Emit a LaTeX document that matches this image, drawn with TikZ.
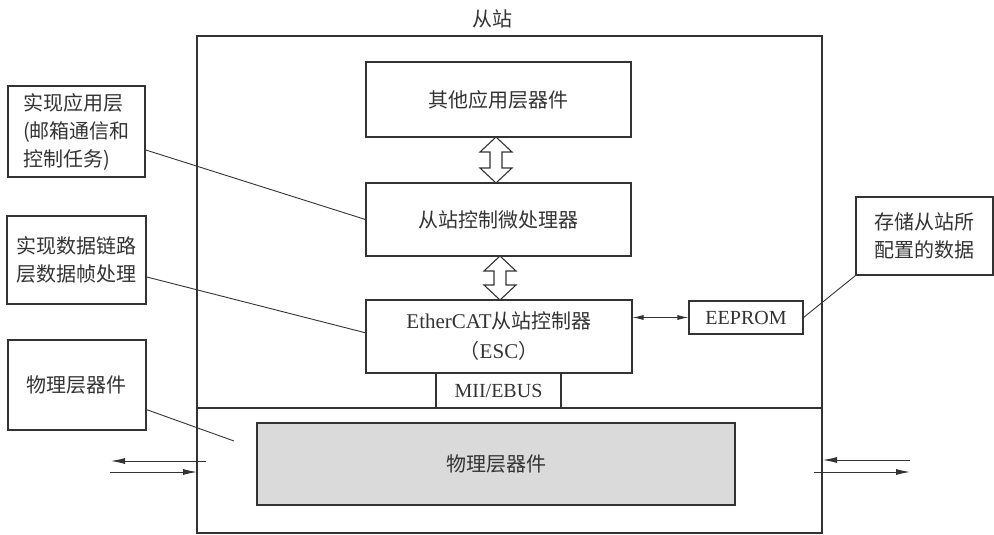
\documentclass[tikz,border=0pt]{standalone}
\usepackage{fontspec}
\setmainfont{Liberation Serif}
\newfontfamily\cjk{Noto Sans CJK SC}
\usetikzlibrary{arrows.meta,calc}
\definecolor{ink}{HTML}{333333}
\definecolor{phys}{HTML}{DADADA}
\newcommand\hollowarrow[3]{%
  \draw[ink,line width=1.1pt,fill=white,line join=miter]
    (#1,#2) -- ++(16,15) -- ++(-10,0) -- (#1+6,#3-15) -- ++(10,0) -- (#1,#3)
    -- ++(-16,-15) -- ++(10,0) -- (#1-6,#2+15) -- ++(-10,0) -- cycle;}
\begin{document}
\begin{tikzpicture}[x=1pt,y=-1pt,
  every node/.style={text=ink,font=\fontsize{20}{28}\selectfont\cjk},
  box/.style={draw=ink,line width=1.1pt,rectangle,inner sep=0pt},
  lead/.style={draw=ink,line width=0.9pt},
  tip/.style={draw=ink,line width=0.9pt,-{Latex[length=14pt,width=6pt]}},
  dtip/.style={draw=ink,line width=0.9pt,{Latex[length=11pt,width=5pt]}-{Latex[length=11pt,width=5pt]}}]
\useasboundingbox (0,0) rectangle (994,535);
% outer slave box
\node[box,minimum width=625pt,minimum height=497pt] (outer) at (509.5,284.5) {};
\node (title) at (492,19) {从站};
\coordinate (hl) at (197,408);
\coordinate (hr) at (822,408);
\draw[ink,line width=1.1pt] (hl) -- (hr);
% inner boxes
\node[box,minimum width=265pt,minimum height=75pt] (top) at (498.5,99.5) {其他应用层器件};
\node[box,minimum width=265pt,minimum height=73pt] (mid) at (498.5,219.5) {从站控制微处理器};
\node[box,minimum width=266pt,minimum height=73pt,align=center,font=\fontsize{20}{30}\selectfont\cjk] (esc) at (499,336.5)
  {{\rmfamily\fontsize{21}{30}\selectfont EtherCAT}从站控制器\\（{\rmfamily\fontsize{21}{30}\selectfont ESC}）};
\node[box,minimum width=125pt,minimum height=35pt,font=\fontsize{20}{24}\selectfont\rmfamily] (mii) at (498.5,390.5) {MII/EBUS};
\node[box,minimum width=114pt,minimum height=33pt,font=\fontsize{20}{24}\selectfont\rmfamily] (eeprom) at (746,317.5) {EEPROM};
\node[box,fill=phys,minimum width=478pt,minimum height=82pt] (phy) at (496,464) {物理层器件};
% hollow double arrows
\hollowarrow{496}{137}{183}
\hollowarrow{500}{256}{300}
% ESC <-> EEPROM
\draw[dtip] (eeprom.west -| esc.east) -- (eeprom.west);
% callouts
\node[box,minimum width=137pt,minimum height=91pt,align=left] (c1) at (76.5,131.5)
  {实现应用层\\(邮箱通信和\\控制任务)};
\node[box,minimum width=139pt,minimum height=88pt,align=left] (c2) at (76.5,260)
  {实现数据链路\\层数据帧处理};
\node[box,minimum width=138pt,minimum height=90pt] (c3) at (77,385) {物理层器件};
\node[box,minimum width=137pt,minimum height=78pt,align=left] (c4) at (924.5,236)
  {存储从站所\\配置的数据};
\draw[lead] ($(c1.north east)!0.70!(c1.south east)$) -- (mid.west);
\draw[lead] ($(c2.north east)!0.69!(c2.south east)$) -- ($(esc.north west)!0.45!(esc.south west)$);
\coordinate (c3end) at (234,441);
\draw[lead] ($(c3.north east)!0.77!(c3.south east)$) -- (c3end);
\draw[lead] (c4.south west) -- (eeprom.east);
% external arrows
\coordinate (la1) at (206,461); \coordinate (la2) at (111,461);
\coordinate (lb1) at (110,472); \coordinate (lb2) at (197,472);
\coordinate (ra1) at (910,460); \coordinate (ra2) at (823,460);
\coordinate (rb1) at (814,472); \coordinate (rb2) at (910,472);
\draw[tip] (la1) -- (la2);
\draw[tip] (lb1) -- (lb2);
\draw[tip] (ra1) -- (ra2);
\draw[tip] (rb1) -- (rb2);
\end{tikzpicture}
\end{document}
